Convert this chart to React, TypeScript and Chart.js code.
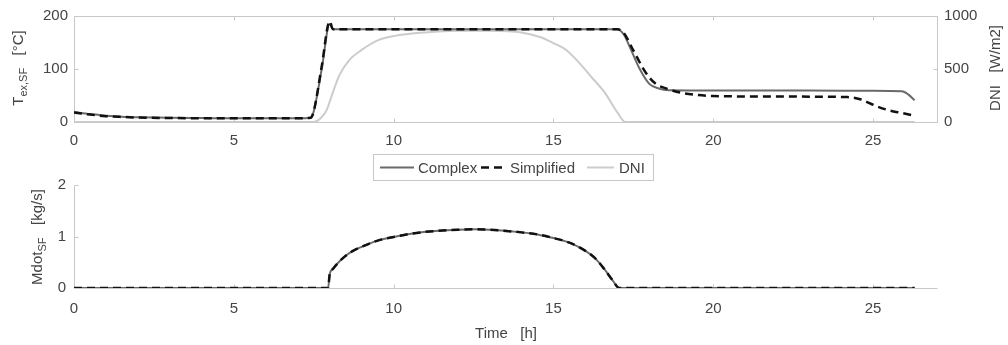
import React, { useEffect, useRef } from "react";
import { Chart, registerables } from "chart.js";

Chart.register(...registerables);

const FONT = '"Liberation Sans", Arial, Helvetica, sans-serif';
const TEXT = "#444444";
const FRAME = "#c8c8c8";

// ---------- data ----------
const X_TICKS = [0, 5, 10, 15, 20, 25];
const T_TICKS = [0, 100, 200];
const DNI_TICKS = [0, 500, 1000];
const M_TICKS = [0, 1, 2];

const LEGEND_LABELS = ["Complex", "Simplified", "DNI"];

const T_TIME_COMPLEX = [0, 0.5, 1, 1.5, 2, 3, 4, 5, 6, 7, 7.4, 7.5, 7.75, 8.0, 8.1, 9, 10, 12, 14, 16, 17.0, 17.2, 17.4, 17.7, 18.0, 18.3, 18.6, 20, 22, 24, 25, 25.9, 26.1, 26.3];
const T_COMPLEX = [19, 15, 12, 10, 9, 8, 7.5, 7, 7, 7, 8, 20, 100, 185, 175, 175, 175, 175, 175, 175, 175, 165, 140, 100, 72, 63, 60, 59.5, 59.5, 59, 59, 58, 52, 41];

const T_TIME_SIMPLIFIED = [0, 0.5, 1, 1.5, 2, 3, 4, 5, 6, 7, 7.4, 7.5, 7.75, 8.0, 8.1, 10, 12, 14, 16, 17.0, 17.2, 17.5, 17.9, 18.2, 18.6, 19, 19.5, 20, 22, 24.2, 24.6, 25.1, 25.5, 25.9, 26.3];
const T_SIMPLIFIED = [18, 14, 11, 9.5, 8.5, 7.5, 7, 7, 7, 7, 8, 20, 105, 190, 175, 175, 175, 175, 175, 175, 168, 135, 92, 72, 62, 55, 51, 49, 48, 47, 43, 30, 22, 17, 12];

const DNI_TIME = [0, 7.5, 7.7, 7.9, 8.1, 8.3, 8.6, 9.0, 9.5, 10, 11, 12, 13, 14, 14.6, 15.0, 15.4, 15.8, 16.2, 16.6, 17.0, 17.25, 18, 20, 25, 26.3];
const DNI_VALUES = [0, 0, 30, 110, 280, 440, 580, 680, 770, 810, 845, 860, 860, 845, 800, 745, 680, 560, 420, 280, 90, 0, 0, 0, 0, 0];

const M_TIME = [0, 7.95, 8.0, 8.1, 8.25, 8.45, 8.7, 9, 9.5, 10, 10.5, 11, 12, 12.5, 13, 14, 14.5, 15, 15.5, 16, 16.3, 16.6, 16.85, 17.06, 20, 26.3];
const M_COMPLEX = [0, 0, 0.27, 0.37, 0.48, 0.6, 0.71, 0.8, 0.92, 0.99, 1.05, 1.09, 1.13, 1.14, 1.13, 1.08, 1.04, 0.97, 0.88, 0.72, 0.58, 0.36, 0.15, 0, 0, 0];
const M_SIMPLIFIED = [0, 0, 0.27, 0.37, 0.48, 0.6, 0.71, 0.8, 0.92, 0.99, 1.05, 1.09, 1.13, 1.14, 1.13, 1.08, 1.04, 0.97, 0.88, 0.72, 0.58, 0.36, 0.15, 0, 0, 0];

// ---------- helpers ----------
const pts = (xs: number[], ys: number[]) => xs.map((x, i) => ({ x, y: ys[i] }));
const fixedTicks = (values: number[]) => (scale: any) => {
  scale.ticks = values.map((v) => ({ value: v }));
};
const plain = (v: any) => String(v);

const STYLE_COMPLEX = { color: "#6a6a6a", width: 2, dash: [] as number[] };
const STYLE_SIMPLIFIED = { color: "#111111", width: 2.5, dash: [8, 5] };
const STYLE_DNI = { color: "#cccccc", width: 2, dash: [] as number[] };

type Part = { text: string; sub?: boolean };

function drawRich(ctx: CanvasRenderingContext2D, parts: Part[], cx: number, cy: number, rot: number) {
  ctx.save();
  ctx.translate(cx, cy);
  ctx.rotate(rot);
  ctx.fillStyle = TEXT;
  ctx.textAlign = "left";
  ctx.textBaseline = "alphabetic";
  let w = 0;
  parts.forEach((p) => {
    ctx.font = `${p.sub ? 11 : 15}px ${FONT}`;
    w += ctx.measureText(p.text).width;
  });
  let x = -w / 2;
  parts.forEach((p) => {
    ctx.font = `${p.sub ? 11 : 15}px ${FONT}`;
    ctx.fillText(p.text, x, p.sub ? 9 : 5);
    x += ctx.measureText(p.text).width;
  });
  ctx.restore();
}

const framePlugin = (box: boolean) => ({
  id: "frame",
  beforeDatasetsDraw(chart: any) {
    const { ctx, chartArea: a, scales } = chart;
    const L = Math.round(a.left) + 0.5;
    const R = Math.round(a.right) + 0.5;
    const T = Math.round(a.top) + 0.5;
    const B = Math.round(a.bottom) + 0.5;
    ctx.save();
    ctx.strokeStyle = FRAME;
    ctx.lineWidth = 1;
    ctx.beginPath();
    if (box) {
      ctx.rect(L, T, R - L, B - T);
    } else {
      ctx.moveTo(L, T);
      ctx.lineTo(L, B);
      ctx.lineTo(R, B);
    }
    const tl = 4;
    scales.x.ticks.forEach((t: any) => {
      const px = Math.round(scales.x.getPixelForValue(t.value)) + 0.5;
      ctx.moveTo(px, B);
      ctx.lineTo(px, B - tl);
      if (box) {
        ctx.moveTo(px, T);
        ctx.lineTo(px, T + tl);
      }
    });
    scales.y.ticks.forEach((t: any) => {
      const py = Math.round(scales.y.getPixelForValue(t.value)) + 0.5;
      ctx.moveTo(L, py);
      ctx.lineTo(L + tl, py);
    });
    if (scales.y1) {
      scales.y1.ticks.forEach((t: any) => {
        const py = Math.round(scales.y1.getPixelForValue(t.value)) + 0.5;
        ctx.moveTo(R, py);
        ctx.lineTo(R - tl, py);
      });
    }
    ctx.stroke();
    ctx.restore();
  },
});

const topTitles = {
  id: "topTitles",
  afterDraw(chart: any) {
    const ctx = chart.ctx;
    drawRich(ctx, [{ text: "T" }, { text: "ex,SF", sub: true }, { text: "   [°C]" }], 18, 68, -Math.PI / 2);
    drawRich(ctx, [{ text: "DNI   [W/m2]" }], 995, 68, -Math.PI / 2);

    // legend
    const styles = [STYLE_COMPLEX, STYLE_SIMPLIFIED, STYLE_DNI];
    const items = [
      { x0: 380, x1: 414, tx: 418 },
      { x0: 481, x1: 507, tx: 510 },
      { x0: 587, x1: 614, tx: 619 },
    ];
    const y = 167.5;
    ctx.save();
    ctx.fillStyle = "#ffffff";
    ctx.fillRect(373, 154, 281, 27);
    ctx.strokeStyle = FRAME;
    ctx.lineWidth = 1;
    ctx.strokeRect(373.5, 154.5, 280, 26);
    items.forEach((it, i) => {
      const s = styles[i];
      ctx.beginPath();
      ctx.strokeStyle = s.color;
      ctx.lineWidth = s.width;
      ctx.setLineDash(s.dash);
      ctx.moveTo(it.x0, y);
      ctx.lineTo(it.x1, y);
      ctx.stroke();
      ctx.setLineDash([]);
      ctx.fillStyle = TEXT;
      ctx.font = `15px ${FONT}`;
      ctx.textBaseline = "middle";
      ctx.textAlign = "left";
      ctx.fillText(LEGEND_LABELS[i], it.tx, y + 1);
    });
    ctx.restore();
  },
};

const bottomTitles = {
  id: "bottomTitles",
  afterDraw(chart: any) {
    const ctx = chart.ctx;
    drawRich(ctx, [{ text: "Mdot" }, { text: "SF", sub: true }, { text: "   [kg/s]" }], 37, 237, -Math.PI / 2);
    drawRich(ctx, [{ text: "Time   [h]" }], 506, 333, 0);
  },
};

const tickFont = { family: FONT, size: 15 };
const noGrid = { display: false, drawTicks: false, tickLength: 0 };

function lineDs(label: string, data: any[], s: any, axis: string, order: number) {
  return {
    label,
    data,
    yAxisID: axis,
    borderColor: s.color,
    borderWidth: s.width,
    borderDash: s.dash,
    pointRadius: 0,
    fill: false,
    cubicInterpolationMode: "monotone" as const,
    order,
  };
}

const xScale = (height: number, pad: number) => ({
  type: "linear" as const,
  min: 0,
  max: 27,
  afterBuildTicks: fixedTicks(X_TICKS),
  afterFit: (s: any) => {
    s.height = height;
  },
  grid: noGrid,
  border: { display: false },
  ticks: { font: tickFont, color: TEXT, padding: pad, maxRotation: 0, callback: plain },
});

export default function App() {
  const topRef = useRef<HTMLCanvasElement>(null);
  const botRef = useRef<HTMLCanvasElement>(null);

  useEffect(() => {
    const top = new Chart(topRef.current!, {
      type: "line",
      data: {
        datasets: [
          lineDs(LEGEND_LABELS[1], pts(T_TIME_SIMPLIFIED, T_SIMPLIFIED), STYLE_SIMPLIFIED, "y", 0),
          lineDs(LEGEND_LABELS[0], pts(T_TIME_COMPLEX, T_COMPLEX), STYLE_COMPLEX, "y", 1),
          lineDs(LEGEND_LABELS[2], pts(DNI_TIME, DNI_VALUES), STYLE_DNI, "y1", 2),
        ],
      },
      options: {
        responsive: false,
        animation: false,
        devicePixelRatio: 1,
        layout: { padding: { top: 15, bottom: 193, left: 0, right: 0 } },
        plugins: { legend: { display: false }, tooltip: { enabled: false } },
        events: [],
        scales: {
          x: xScale(30, 10),
          y: {
            type: "linear",
            position: "left",
            min: 0,
            max: 200,
            afterBuildTicks: fixedTicks(T_TICKS),
            afterFit: (s: any) => {
              s.width = 74;
            },
            grid: noGrid,
            border: { display: false },
            ticks: { font: tickFont, color: TEXT, padding: 6, callback: plain },
          },
          y1: {
            type: "linear",
            position: "right",
            min: 0,
            max: 1000,
            afterBuildTicks: fixedTicks(DNI_TICKS),
            afterFit: (s: any) => {
              s.width = 71;
            },
            grid: noGrid,
            border: { display: false },
            ticks: { font: tickFont, color: TEXT, padding: 7, callback: plain },
          },
        },
      },
      plugins: [framePlugin(true), topTitles],
    } as any);

    const bot = new Chart(botRef.current!, {
      type: "line",
      data: {
        datasets: [
          lineDs(LEGEND_LABELS[1], pts(M_TIME, M_SIMPLIFIED), STYLE_SIMPLIFIED, "y", 0),
          lineDs(LEGEND_LABELS[0], pts(M_TIME, M_COMPLEX), STYLE_COMPLEX, "y", 1),
        ],
      },
      options: {
        responsive: false,
        animation: false,
        devicePixelRatio: 1,
        layout: { padding: { top: 185, bottom: 0, left: 0, right: 71 } },
        plugins: { legend: { display: false }, tooltip: { enabled: false } },
        events: [],
        scales: {
          x: xScale(57, 12),
          y: {
            type: "linear",
            position: "left",
            min: 0,
            max: 2,
            afterBuildTicks: fixedTicks(M_TICKS),
            afterFit: (s: any) => {
              s.width = 74;
            },
            grid: noGrid,
            border: { display: false },
            ticks: { font: tickFont, color: TEXT, padding: 8, callback: plain },
          },
        },
      },
      plugins: [framePlugin(false), bottomTitles],
    } as any);

    return () => {
      top.destroy();
      bot.destroy();
    };
  }, []);

  return (
    <div style={{ position: "absolute", left: 0, top: 0, width: 1008, height: 345, background: "#ffffff" }}>
      <canvas ref={botRef} width={1008} height={345} style={{ position: "absolute", left: 0, top: 0 }} />
      <canvas ref={topRef} width={1008} height={345} style={{ position: "absolute", left: 0, top: 0 }} />
    </div>
  );
}
